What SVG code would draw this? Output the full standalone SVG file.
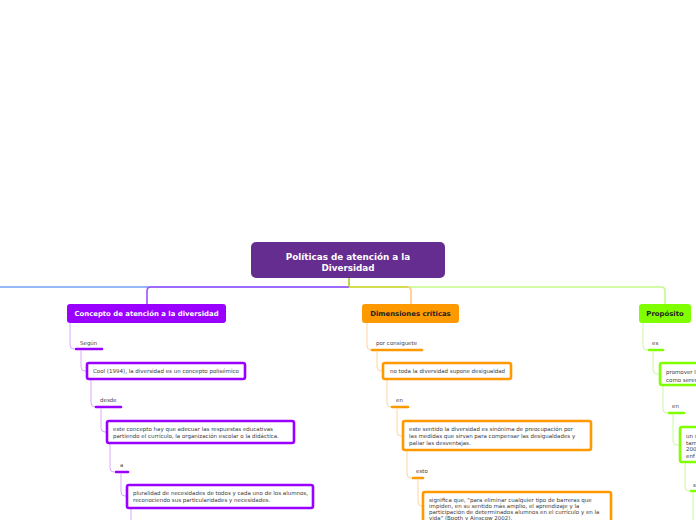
<svg xmlns="http://www.w3.org/2000/svg" width="696" height="520" viewBox="0 0 696 520">
<style>
text{font-family:"DejaVu Sans","Liberation Sans",sans-serif;}
.title{font-weight:bold;font-size:8.8px;fill:#fff;text-anchor:middle;}
.ntitle{font-weight:bold;font-size:6.9px;text-anchor:middle;}
.lbl{font-size:5.5px;fill:#444;}
.txt{font-size:5.5px;fill:#3a3a3a;}
.c{fill:none;stroke-width:1;}
.pc{stroke:#dba8ff;}
.oc{stroke:#ffd59a;}
.gc{stroke:#c8fb9c;}
.u{stroke-width:2.6;stroke-linecap:round;fill:none;}
.pu{stroke:#9900ff;}
.ou{stroke:#ff9900;}
.gu{stroke:#80ff00;}
.pb{fill:#fff;stroke:#9900ff;stroke-width:2.6;}
.ob{fill:#fff;stroke:#ff9900;stroke-width:2.6;}
.gb{fill:#fff;stroke:#80ff00;stroke-width:2.6;}
</style>
<rect width="696" height="520" fill="#fff"/>
<g id="connectors">
  <path d="M349,287 H0" fill="none" stroke="#70a0f2" stroke-width="1.6"/>
  <path d="M349,287 H151 Q147,287 147,291 V304" fill="none" stroke="#a050ff" stroke-width="1.6"/>
  <path d="M349,287 H661 Q665,287 665,291 V304" fill="none" stroke="#c2fa88" stroke-width="1.6"/>
  <path d="M349,287 H407 Q411,287 411,291 V304" fill="none" stroke="#ffc880" stroke-width="1.6"/>
  <path d="M349,287 H408" fill="none" stroke="#c4e23c" stroke-width="1.6"/>
  <path d="M349,278 V287" fill="none" stroke="#a8d020" stroke-width="1.6"/>
  <!-- concept branch -->
  <path class="c pc" d="M70,323 V345 Q70,349 74,349"/>
  <path class="u pu" d="M76,349 H102"/>
  <path class="c pc" d="M81,350 V367 Q81,371 85,371 H87"/>
  <path class="c pc" d="M91,379 V403 Q91,407 95,407"/>
  <path class="u pu" d="M96,407 H121"/>
  <path class="c pc" d="M101,408 V428 Q101,432 105,432 H107"/>
  <path class="c pc" d="M110,443 V468 Q110,472 114,472"/>
  <path class="u pu" d="M116,472 H128"/>
  <path class="c pc" d="M121,473 V492 Q121,496 125,496 H127"/>
  <path class="c pc" d="M131,508 V520"/>
  <!-- dimensiones branch -->
  <path class="c oc" d="M367,322 V346 Q367,350 371,350"/>
  <path class="u ou" d="M372,350 H422"/>
  <path class="c oc" d="M377,351 V367 Q377,371 381,371 H383"/>
  <path class="c oc" d="M387,379 V403 Q387,407 391,407"/>
  <path class="u ou" d="M392,407 H408"/>
  <path class="c oc" d="M397,408 V432 Q397,436 401,436 H403"/>
  <path class="c oc" d="M407,450 V474 Q407,478 411,478"/>
  <path class="u ou" d="M413,478 H423"/>
  <path class="c oc" d="M418,479 V502 Q418,506 422,506 H423"/>
  <!-- proposito branch -->
  <path class="c gc" d="M643,322 V346 Q643,350 647,350"/>
  <path class="u gu" d="M649,350 H663"/>
  <path class="c gc" d="M653,351 V370 Q653,374 657,374 H660"/>
  <path class="c gc" d="M663,385 V409 Q663,413 667,413"/>
  <path class="u gu" d="M669,413 H684"/>
  <path class="c gc" d="M673,414 V441 Q673,445 677,445 H680"/>
  <path class="c gc" d="M685,462 V487 Q685,491 689,491"/>
  <path class="u gu" d="M691,491 H700"/>
  <path class="c gc" d="M693,492 V520"/>
</g>
<g id="root">
  <rect x="251" y="242" width="194" height="36" rx="5" fill="#662d91"/>
  <text class="title" x="348" y="259.5">Políticas de atención a la</text>
  <text class="title" x="348" y="271">Diversidad</text>
</g>
<g id="concepto">
  <rect x="67" y="304" width="159" height="19" rx="3" fill="#9900ff"/>
  <text class="ntitle" x="146.5" y="316" fill="#fff">Concepto de atención a la diversidad</text>
</g>
<g id="dimensiones">
  <rect x="362" y="304" width="97" height="19" rx="3" fill="#ff9900"/>
  <text class="ntitle" x="410.5" y="316" fill="#222">Dimensiones críticas</text>
</g>
<g id="proposito">
  <rect x="639" y="304" width="52" height="19" rx="3" fill="#80ff00"/>
  <text class="ntitle" x="665" y="316" fill="#222">Propósito</text>
</g>
<g id="lbl-segun"><text class="lbl" x="80" y="345">Según</text></g>
<g id="cool">
  <rect class="pb" x="87" y="363" width="158" height="16" rx="2"/>
  <text class="txt" x="93" y="373">Cool (1994), la diversidad es un concepto polisémico</text>
</g>
<g id="lbl-desde"><text class="lbl" x="100" y="402">desde</text></g>
<g id="concepto-adecuar">
  <rect class="pb" x="107" y="421" width="187" height="22" rx="2"/>
  <text class="txt" x="113" y="430.5">este concepto  hay que adecuar las respuestas educativas</text>
  <text class="txt" x="113" y="437.5">partiendo el currículo, la organización escolar o la didáctica.</text>
</g>
<g id="lbl-a"><text class="lbl" x="120" y="467">a</text></g>
<g id="pluralidad">
  <rect class="pb" x="127" y="485" width="186" height="23" rx="2"/>
  <text class="txt" x="133" y="495">pluralidad de necesidades de todos y cada uno de los alumnos,</text>
  <text class="txt" x="133" y="502">reconociendo sus particularidades y necesidades.</text>
</g>
<g id="lbl-porconsiguete"><text class="lbl" x="376" y="345">por consiguete</text></g>
<g id="no-toda">
  <rect class="ob" x="383" y="363" width="128" height="16" rx="2"/>
  <text class="txt" x="390" y="373">no toda la diversidad supone desigualdad</text>
</g>
<g id="lbl-en1"><text class="lbl" x="396" y="402">en</text></g>
<g id="este-sentido">
  <rect class="ob" x="403" y="421" width="188" height="29" rx="2"/>
  <text class="txt" x="409" y="431">este sentido la diversidad es sinónima de preocupación  por</text>
  <text class="txt" x="409" y="438">las medidas que sirvan para compensar las desigualdades y</text>
  <text class="txt" x="409" y="445">paliar las desventajas.</text>
</g>
<g id="lbl-esto"><text class="lbl" x="416" y="473">esto</text></g>
<g id="significa">
  <rect class="ob" x="423" y="492" width="188" height="40" rx="2"/>
  <text class="txt" x="429" y="502">significa que, "para eliminar cualquier tipo de barreras que</text>
  <text class="txt" x="429" y="508">impiden, en su sentido más amplio, el aprendizaje y la</text>
  <text class="txt" x="429" y="514">participación de determinados alumnos  en el currículo y en la</text>
  <text class="txt" x="429" y="519.5">vida" (Booth y Ainscow 2002).</text>
</g>
<g id="lbl-es"><text class="lbl" x="652" y="345">es</text></g>
<g id="promover">
  <rect class="gb" x="660" y="363" width="60" height="22" rx="2"/>
  <text class="txt" x="666" y="374">promover l</text>
  <text class="txt" x="666" y="381.5">como seren</text>
</g>
<g id="lbl-en2"><text class="lbl" x="672" y="408">en</text></g>
<g id="un-s">
  <rect class="gb" x="680" y="427" width="40" height="35" rx="2"/>
  <text class="txt" x="686" y="438">un s</text>
  <text class="txt" x="686" y="444.5">tam</text>
  <text class="txt" x="686" y="451">200</text>
  <text class="txt" x="686" y="457.5">enf</text>
</g>
<g id="lbl-s"><text class="lbl" x="693" y="487">s</text></g>
</svg>
